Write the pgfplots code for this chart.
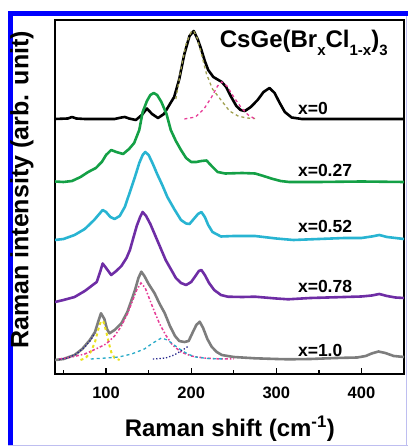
\documentclass[border=0pt]{standalone}
\usepackage{pgfplots}
\pgfplotsset{compat=1.18}
\usepackage{fontspec}
\setmainfont{Liberation Sans}
\definecolor{cgreen}{RGB}{20,160,70}
\definecolor{ccyan}{RGB}{40,180,210}
\definecolor{cpurple}{RGB}{110,45,165}
\definecolor{cgray}{RGB}{125,125,125}
\definecolor{cpink}{RGB}{230,60,150}
\definecolor{colive}{RGB}{160,160,80}
\definecolor{cyellow}{RGB}{235,225,30}
\definecolor{cdcyan}{RGB}{40,170,200}
\definecolor{cnavy}{RGB}{40,40,140}
\definecolor{cborder}{RGB}{0,0,255}
\definecolor{clav}{RGB}{190,190,240}
\newcommand\sub[1]{\raisebox{-0.33em}{\fontsize{15}{15}\selectfont #1}}
\begin{document}
\begin{tikzpicture}
\path[use as bounding box] (0,0) rectangle (408pt,446pt);
\draw[cborder, line width=5.5pt] (10.5pt,0) -- (10.5pt,432.5pt) -- (408pt,432.5pt);
\draw[clav, line width=1pt] (8pt,0.6pt) -- (408pt,0.6pt);
\draw[clav, line width=1pt] (406.8pt,0) -- (406.8pt,430pt);
\begin{axis}[
  at={(55pt,72pt)}, anchor=south west,
  scale only axis, width=349pt, height=354pt,
  xmin=40, xmax=450, ymin=0, ymax=354,
  xtick={100,200,300,400}, minor xtick={50,150,250,350},
  ytick=\empty,
  tick align=inside, xtick pos=lower,
  major tick length=6pt, minor tick length=3.5pt,
  every tick/.style={black, line width=1.3pt},
  axis line style={line width=1.5pt},
  /pgf/number format/assume math mode=true,
  tick label style={font=\fontsize{16.5}{16.5}\selectfont\bfseries},
  xticklabel style={yshift=-9pt},
  xlabel={Raman shift (cm\textsuperscript{-1})},
  ylabel={Raman intensity (arb. unit)},
  xlabel style={at={(axis description cs:0.501,-0.155)}, anchor=center, font=\fontsize{24}{24}\selectfont\bfseries},
  ylabel style={at={(axis description cs:-0.095,0.52)}, anchor=center, font=\fontsize{25}{25}\selectfont\bfseries},
  clip=true,
]
% x=0 (black)
\addplot[black, line width=2.6pt, line join=round] coordinates {
(40,255) (55,255.5) (60,257) (65,255.5) (75,255) (110,255) (118,256.5) (122,257) (127,255.5) (135,254) (142,259) (148,265.5) (154,260) (161,256) (168,260) (175,270) (180,277) (186,295) (192,320) (198,338) (203,343) (208,334) (212,324) (216,313) (220,304) (226,297) (232,294) (236,292) (241,287) (247,277) (253,268) (258,264) (263,263) (270,267) (278,274) (285,282) (292,286) (298,281) (304,271) (310,262) (318,256.5) (330,255) (360,255) (400,255) (450,255)};
\addplot[colive, line width=1.3pt, dashed] coordinates {
(182,275) (188,305) (194,330) (200,342) (203,343) (207,336) (212,320) (218,300) (225,285) (235,274) (245,263) (255,258) (265,256) (275,255.5)};
\addplot[cpink, line width=1.3pt, dashed] coordinates {
(192,255) (205,257) (215,265) (224,277) (231,288) (236,292) (242,288) (250,277) (259,266) (267,259) (275,255)};
% x=0.27 (green)
\addplot[cgreen, line width=2.6pt, line join=round] coordinates {
(40,192.5) (50,192) (60,193) (70,197) (79,202) (88,206) (95,212) (100,219) (106,224) (112,222) (120,220) (127,225) (133,231) (139,244) (143,262) (148,273) (152,279) (156,281) (160,279) (165,272) (171,260) (176,244) (182,233) (188,224) (194,216) (200,212) (206,212) (212,213) (218,213.5) (224,208) (231,202) (240,200.5) (260,201) (275,200.5) (285,198) (294,195.5) (305,193) (315,192) (350,192) (400,192.5) (450,192)};
% x=0.52 (cyan)
\addplot[ccyan, line width=2.6pt, line join=round] coordinates {
(40,134) (50,135) (63,139) (75,145) (86,154) (92,160) (96,164) (100,162) (105,157) (110,155) (116,158) (122,167) (130,187) (135,200) (139,211) (143,219) (146,222) (150,219) (155,210) (160,200) (166,189) (172,177) (180,165) (188,154) (194,150.5) (198,150) (203,155) (208,160) (212,162) (216,157) (220,149) (225,142) (235,137.5) (250,138) (275,138) (300,135.5) (320,134) (350,135) (380,136) (400,136) (412,137.5) (421,139) (430,137) (440,136) (450,135)};
% x=0.78 (purple)
\addplot[cpurple, line width=2.6pt, line join=round] coordinates {
(40,72) (50,74) (63,77) (75,83) (89,92) (93,102) (96,110.5) (100,106) (106,99) (112,103) (118,108) (124,116) (128,124) (132,136) (136,148) (140,157) (143,162) (147,158) (152,150) (158,138) (165,124) (170,114) (176,105) (182,96) (188,91) (194,89) (200,92) (205,98) (209,103) (212,104) (216,99) (221,91) (227,84) (235,79) (243,77.3) (260,77) (275,77.3) (300,75.5) (314,74.7) (340,76) (380,77) (400,77.5) (412,78.5) (421,80) (430,78) (440,76.5) (450,76)};
% x=1.0 (gray)
\addplot[cgray, line width=2.6pt, line join=round] coordinates {
(40,14) (50,15) (63,19) (72,25) (81,34) (87,42) (91,53) (94,60.7) (98,55) (101,45) (104,40.7) (110,44) (118,50.7) (125,62) (130,74) (134,84) (138,96) (141.4,102.3) (145,98) (150,90) (157,80.7) (163,70) (169,60.7) (175,48) (181,38) (186,33) (192,32) (197,33) (202,42) (206,49) (210,52.3) (214,46) (219,35) (224,27.3) (230,22) (236,19) (250,17) (275,15.7) (300,15) (314,14.7) (340,15) (370,16) (395,16.5) (405,18) (412,20.5) (420,22.5) (428,21) (438,18) (450,17)};
\addplot[cyellow, line width=2pt, dashed] coordinates {
(70,14) (76,16) (82,22) (87,32) (91,45) (94,53) (97,52) (100,43) (103,32) (106,22) (110,16) (116,14)};
\addplot[cpink, line width=1.5pt, dash dot] coordinates {
(45,15) (60,17) (75,20) (88,25) (100,30) (110,38) (118,48) (125,60) (131,73) (136,84) (141,91) (146,86) (151,75) (157,62) (163,50) (170,39) (178,29) (188,22) (200,18) (215,16) (235,15) (250,15)};
\addplot[cdcyan, line width=1.3pt, dashed] coordinates {
(82,15) (100,16) (115,17) (130,20) (145,25) (155,31) (165,36) (172,34) (180,29) (188,24) (196,20) (205,17) (220,15.5) (240,15)};
\addplot[cnavy, line width=1.3pt, dotted] coordinates {
(45,14.5) (55,16) (65,20) (75,27) (82,34) (87,41)};
\addplot[cnavy, line width=1.3pt, dotted] coordinates {
(155,15) (170,16) (180,19) (190,24) (197,28)};
% labels
\node[anchor=west, inner sep=0pt] at (axis cs:233.5,331) {\fontsize{24}{24}\selectfont\bfseries CsGe(Br\sub{x}Cl\sub{1-x})\sub{3}};
\node[anchor=west, inner sep=0pt, font=\fontsize{17.5}{17.5}\selectfont\bfseries] at (axis cs:325.3,266) {x=0};
\node[anchor=west, inner sep=0pt, font=\fontsize{17.5}{17.5}\selectfont\bfseries] at (axis cs:325.3,204) {x=0.27};
\node[anchor=west, inner sep=0pt, font=\fontsize{17.5}{17.5}\selectfont\bfseries] at (axis cs:325.3,148) {x=0.52};
\node[anchor=west, inner sep=0pt, font=\fontsize{17.5}{17.5}\selectfont\bfseries] at (axis cs:325.3,88) {x=0.78};
\node[anchor=west, inner sep=0pt, font=\fontsize{17.5}{17.5}\selectfont\bfseries] at (axis cs:325.3,24) {x=1.0};
\end{axis}
\end{tikzpicture}
\end{document}
